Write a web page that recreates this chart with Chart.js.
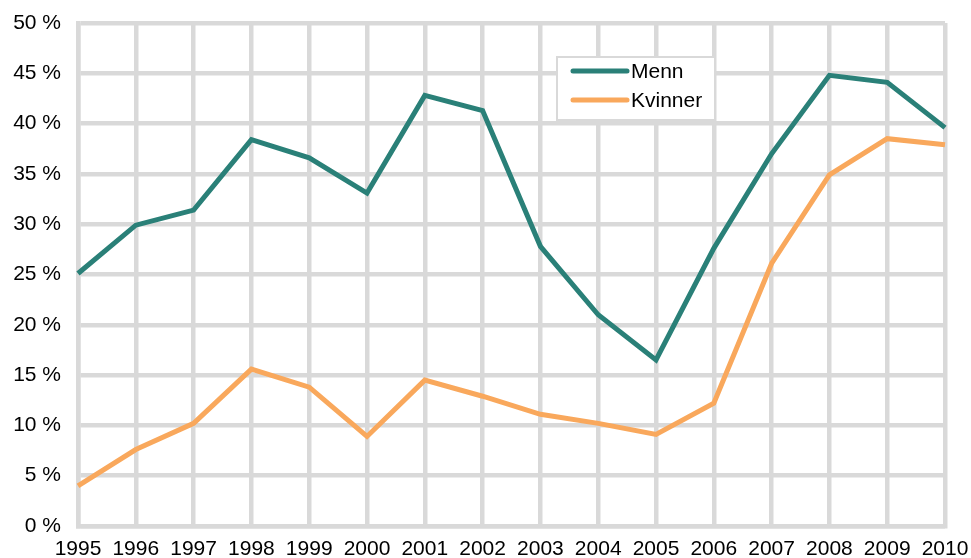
<!DOCTYPE html>
<html>
<head>
<meta charset="utf-8">
<script src="https://cdn.jsdelivr.net/npm/chart.js@4/dist/chart.umd.min.js"></script>
<style>
  html, body { margin: 0; padding: 0; background: #fff; }
  #wrap { width: 971px; height: 558px; position: relative; }
</style>
</head>
<body>
<div id="wrap"><canvas id="chart"></canvas></div>
<script>
const years = ['1995', '1996', '1997', '1998', '1999', '2000', '2001', '2002',
  '2003', '2004', '2005', '2006', '2007', '2008', '2009', '2010']
const menn = [25.1, 29.9, 31.4, 38.4, 36.6, 33.1, 42.8, 41.3,
  27.8, 21.0, 16.5, 27.6, 37.0, 44.8, 44.1, 39.6]
const kvinner = [4.0, 7.6, 10.2, 15.6, 13.8, 8.9, 14.5, 12.9,
  11.1, 10.2, 9.1, 12.2, 26.1, 34.9, 38.5, 37.9]
const seriesNames = ['Menn', 'Kvinner']
const seriesColors = ['#2a8078', '#f9a85c']

const gridColor = '#d9d9d9'
const font = { family: '"Liberation Sans", Arial, sans-serif', size: 21 }

// legend box sits inside the plot, top middle-right
const boxLegend = {
  id: 'boxLegend',
  afterDraw(chart) {
    const ctx = chart.ctx
    ctx.save()
    ctx.fillStyle = '#fff'
    ctx.fillRect(557, 57, 158, 63)
    ctx.strokeStyle = gridColor
    ctx.lineWidth = 2
    ctx.strokeRect(557, 57, 158, 63)
    chart.data.datasets.forEach((ds, i) => {
      const y = 71 + i * 29
      ctx.strokeStyle = ds.borderColor
      ctx.lineWidth = 5
      ctx.lineCap = 'round'
      ctx.beginPath()
      ctx.moveTo(573, y)
      ctx.lineTo(627, y)
      ctx.stroke()
      ctx.fillStyle = '#000'
      ctx.font = `${font.size}px ${font.family}`
      ctx.textBaseline = 'middle'
      ctx.fillText(ds.label, 631, y + 1)
    })
    ctx.restore()
  }
}

new Chart(document.getElementById('chart').getContext('2d'), {
  type: 'line',
  data: {
    labels: years,
    datasets: [menn, kvinner].map((values, i) => ({
      label: seriesNames[i],
      data: values,
      borderColor: seriesColors[i],
      backgroundColor: seriesColors[i],
      borderWidth: 5,
      pointRadius: 0,
      tension: 0,
      fill: false
    }))
  },
  options: {
    responsive: true,
    maintainAspectRatio: false,
    animation: false,
    layout: { padding: { left: 0, right: 26, top: 23, bottom: 0 } },
    plugins: {
      legend: { display: false },
      tooltip: { enabled: false }
    },
    scales: {
      x: {
        grid: { color: gridColor, lineWidth: 4.5, drawTicks: false },
        border: { color: gridColor, width: 4.5 },
        ticks: { font: font, color: '#000', padding: 11, maxRotation: 0, autoSkip: false },
        afterFit(scale) {
          scale.height = 32
          scale.paddingLeft = 0
          scale.paddingRight = 0
        }
      },
      y: {
        min: 0,
        max: 50,
        grid: { color: gridColor, lineWidth: 4.5, drawTicks: false },
        border: { color: gridColor, width: 4.5 },
        ticks: {
          stepSize: 5,
          font: font,
          color: '#000',
          padding: 17,
          callback: v => v + ' %'
        },
        afterFit(scale) {
          scale.width = 78
          scale.paddingTop = 0
          scale.paddingBottom = 0
        }
      }
    }
  },
  plugins: [boxLegend]
})
</script>
</body>
</html>
